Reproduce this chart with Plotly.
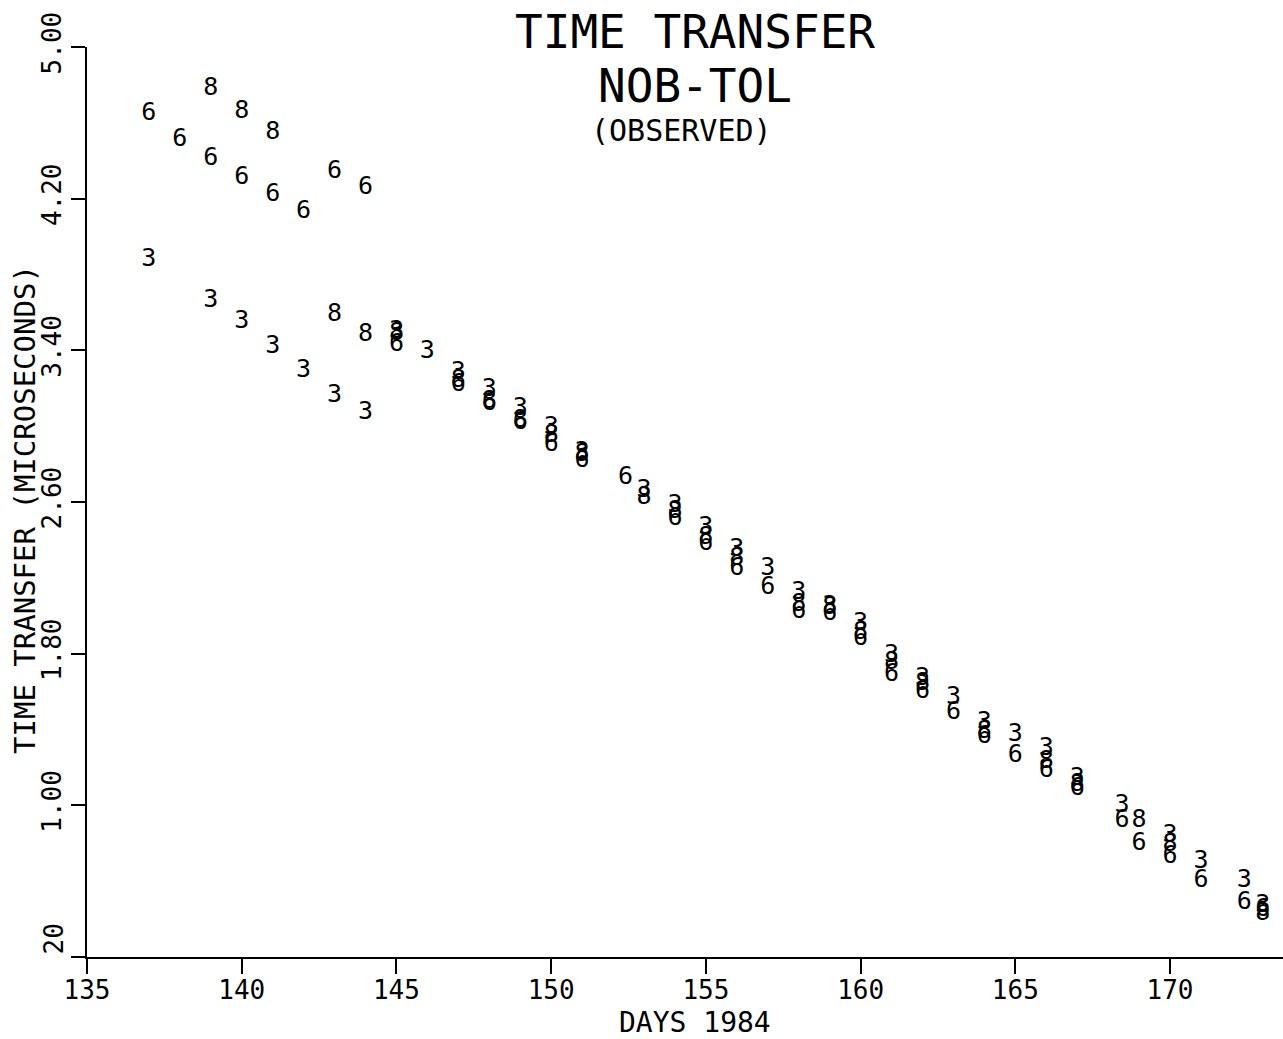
import plotly.graph_objects as go

# Observed NOB-TOL time transfer, grouped by satellite number (day of 1984, microseconds)
days_sv3 = [137, 139, 140, 141, 142, 143, 144, 145, 146, 147, 148, 149, 150, 151,
            153, 154, 155, 156, 157, 158, 159, 160, 161, 162, 163, 164, 165, 166,
            167, 168.45, 170, 171, 172.4, 173]
vals_sv3 = [3.88, 3.66, 3.55, 3.42, 3.29, 3.16, 3.07, 3.50, 3.39, 3.28, 3.19, 3.09, 2.99, 2.86,
            2.66, 2.58, 2.465, 2.35, 2.25, 2.12, 2.05, 1.96, 1.79, 1.67, 1.57, 1.435, 1.37, 1.30,
            1.14, 1.00, 0.84, 0.70, 0.60, 0.47]

days_sv6 = [137, 138, 139, 140, 141, 142, 143, 144, 145, 147, 148, 149, 150, 151, 152.4,
            154, 155, 156, 157, 158, 159, 160, 161, 162, 163, 164, 165, 166, 167, 168.45,
            169, 170, 171, 172.4, 173]
vals_sv6 = [4.65, 4.51, 4.41, 4.31, 4.22, 4.13, 4.34, 4.26, 3.43, 3.22, 3.12, 3.02, 2.90, 2.82, 2.73,
            2.51, 2.38, 2.25, 2.15, 2.02, 2.01, 1.88, 1.69, 1.60, 1.49, 1.36, 1.26, 1.18, 1.09, 0.92,
            0.80, 0.73, 0.60, 0.485, 0.45]

days_sv8 = [139, 140, 141, 143, 144, 145, 147, 148, 149, 150, 151, 153, 154, 155, 156,
            158, 159, 160, 161, 162, 164, 166, 167, 169, 170, 173]
vals_sv8 = [4.78, 4.66, 4.55, 3.59, 3.48, 3.49, 3.24, 3.13, 3.03, 2.95, 2.85, 2.62, 2.55, 2.41, 2.30,
            2.06, 2.04, 1.91, 1.75, 1.64, 1.39, 1.23, 1.11, 0.92, 0.79, 0.43]

x_ticks = [135, 140, 145, 150, 155, 160, 165, 170]
y_ticks = [0.20, 1.00, 1.80, 2.60, 3.40, 4.20, 5.00]
y_tick_text = ["", "1.00", "1.80", "2.60", "3.40", "4.20", "5.00"]

FONT = "DejaVu Sans Mono"
INK = "black"

fig = go.Figure()
for label, xs, ys in [("3", days_sv3, vals_sv3), ("6", days_sv6, vals_sv6), ("8", days_sv8, vals_sv8)]:
    fig.add_trace(go.Scatter(
        x=xs, y=ys, mode="text", text=[label] * len(xs),
        textposition="middle center",
        textfont=dict(family=FONT, size=25, color=INK),
        name=label, cliponaxis=False,
    ))

fig.update_xaxes(
    range=[135, 173.65], tickmode="array", tickvals=x_ticks,
    ticks="outside", ticklen=15, tickwidth=2, tickcolor=INK,
    ticklabelstandoff=-6,
    showline=True, linecolor=INK, linewidth=2,
    showgrid=False, zeroline=False,
    tickfont=dict(family=FONT, size=26, color=INK),
    automargin=False,
)
fig.update_yaxes(
    range=[0.20, 5.00], tickmode="array", tickvals=y_ticks, ticktext=y_tick_text,
    tickangle=-90, ticks="outside", ticklen=14, tickwidth=2, tickcolor=INK,
    showline=True, linecolor=INK, linewidth=2,
    showgrid=False, zeroline=False,
    tickfont=dict(family=FONT, size=26, color=INK),
    automargin=False,
)

# Vertical axis caption, reading upward along the left edge
fig.add_annotation(x=0, xref="paper", xanchor="center", xshift=-62,
                   y=0.5, yref="paper", yanchor="middle", yshift=-8,
                   text="TIME TRANSFER (MICROSECONDS)", textangle=-90, showarrow=False,
                   font=dict(family=FONT, size=29, color=INK))

# Horizontal axis caption, centred under the day labels
fig.add_annotation(x=0.508, xref="paper", xanchor="center",
                   y=0, yref="paper", yanchor="middle", yshift=-65,
                   text="DAYS 1984", showarrow=False,
                   font=dict(family=FONT, size=28, color=INK))

# Bottom y label sits just above its tick
fig.add_annotation(x=0, xref="paper", xanchor="right", xshift=-17,
                   y=0.20, yref="y", yanchor="bottom",
                   text="20", textangle=-90, showarrow=False,
                   font=dict(family=FONT, size=26, color=INK))

# Three-line heading
for txt, ypos, size, xpos in [("TIME TRANSFER", 1.0165, 46, 0.508),
                              ("NOB-TOL", 0.957, 46, 0.508),
                              ("(OBSERVED)", 0.9077, 30, 0.497)]:
    fig.add_annotation(x=xpos, xref="paper", y=ypos, yref="paper",
                       xanchor="center", yanchor="middle", text=txt, showarrow=False,
                       font=dict(family=FONT, size=size, color=INK))

fig.update_layout(
    width=1283, height=1039,
    margin=dict(l=87, r=0, t=47, b=82),
    plot_bgcolor="white", paper_bgcolor="white",
    showlegend=False,
)

fig.write_html("out.html")
